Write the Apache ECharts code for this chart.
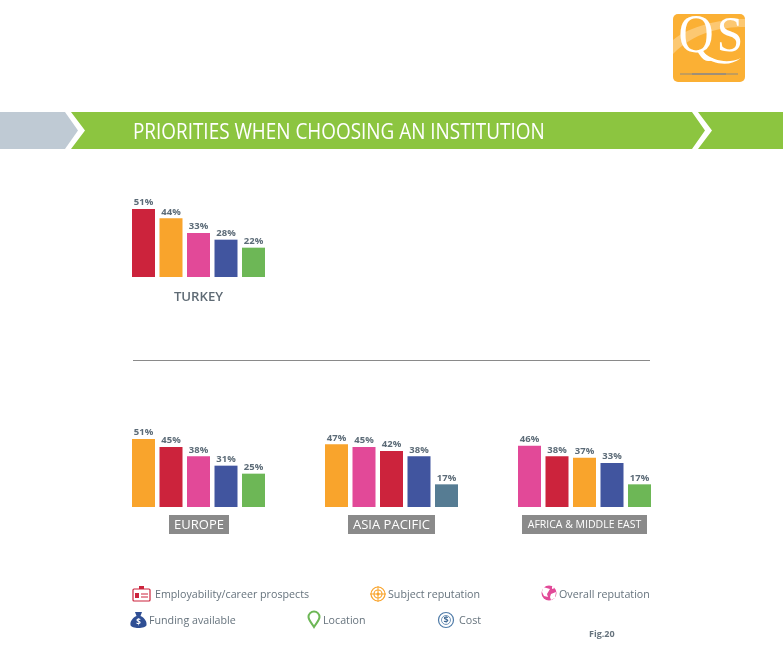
<!DOCTYPE html>
<html>
<head>
<meta charset="utf-8">
<style>
html, body { margin: 0; padding: 0; background: #fff; }
#main { width: 783px; height: 672px; }
</style>
<script src="https://cdn.jsdelivr.net/npm/echarts@6/dist/echarts.min.js"></script>
</head>
<body>
<div id="main"></div>
<script>
var myChart = echarts.init(document.getElementById('main'));

// categories of each panel, in the order they are drawn
var turkeyNames = ['Employability/career prospects', 'Subject reputation', 'Overall reputation', 'Funding available', 'Location'];
var europeNames = ['Subject reputation', 'Employability/career prospects', 'Overall reputation', 'Funding available', 'Location'];
var asiaNames = ['Subject reputation', 'Overall reputation', 'Employability/career prospects', 'Funding available', 'Cost'];
var africaNames = ['Overall reputation', 'Employability/career prospects', 'Subject reputation', 'Funding available', 'Location'];

// values, in percent
var turkeyValues = [51, 44, 33, 28, 22];
var europeValues = [51, 45, 38, 31, 25];
var asiaValues = [47, 45, 42, 38, 17];
var africaValues = [46, 38, 37, 33, 17];

var colors = {
	'Employability/career prospects': '#cc233c',
	'Subject reputation': '#f9a42c',
	'Overall reputation': '#e24998',
	'Funding available': '#41559f',
	'Location': '#6db756',
	'Cost': '#567c93'
};

var FONT = '"Open Sans", sans-serif';
var TEXT = '#66737d';

var panels = [
	{ names: turkeyNames, values: turkeyValues, left: 129.75, top: 197 },
	{ names: europeNames, values: europeValues, left: 129.75, top: 427 },
	{ names: asiaNames, values: asiaValues, left: 322.75, top: 427 },
	{ names: africaNames, values: africaValues, left: 515.75, top: 427 }
];

// the graphic component has no plain path type, so the outlines are registered
echarts.graphic.registerShape('logoSwoosh', echarts.graphic.extendPath('M673 40 C690 26 720 19 745 19 L745 27 C720 27 695 32 673 54 Z'));
echarts.graphic.registerShape('logoTail', echarts.graphic.extendPath('M704 53 C714 61 728 64 741 58 C730 67 714 65 701 55 Z'));
echarts.graphic.registerShape('globeLand', echarts.graphic.extendPath('M543 587 L550 589 L547 594 L548 597 L544 596 L542 592 Z M551 594 L556 592 L555 598 L551 600 L550 597 Z M552 586 L555 588 L552 589 Z'));
echarts.graphic.registerShape('moneyBag', echarts.graphic.extendPath('M135 612 L142 612 L140.5 616 C145 618 147 622 146.5 625 C146 629 131 629 130.5 625 C130 622 132 618 136.5 616 Z'));
echarts.graphic.registerShape('mapPin', echarts.graphic.extendPath('M314 627 C311 622 308.5 620 308.5 617 A5.5 5.5 0 0 1 319.5 617 C319.5 620 317 622 314 627 Z'));

function label(x, y, text, size, color, weight, align) {
	return {
		type: 'text', x: x, y: y, silent: true,
		style: {
			text: text, fill: color, font: (weight || 'normal') + ' ' + size + 'px ' + FONT,
			textAlign: align || 'left', textVerticalAlign: 'middle'
		}
	};
}

function tag(x, width, text, size) {
	return [
		{ type: 'rect', shape: { x: x, y: 515, width: width, height: 19 }, style: { fill: '#8a8a8a' } },
		label(x + width / 2, 525, text, size, '#fff', 'normal', 'center')
	];
}

function stroke(color, width) {
	return { fill: 'none', stroke: color, lineWidth: width };
}

var employabilityIcon = [
	{ type: 'rect', shape: { x: 133, y: 589, width: 17, height: 12, r: 1 }, style: stroke('#cc233c', 1.2) },
	{ type: 'rect', shape: { x: 139, y: 586, width: 5, height: 3 }, style: { fill: '#cc233c' } },
	{ type: 'rect', shape: { x: 135, y: 593, width: 4, height: 5 }, style: { fill: '#cc233c' } },
	{ type: 'line', shape: { x1: 141, y1: 594, x2: 148, y2: 594 }, style: stroke('#cc233c', 1) },
	{ type: 'line', shape: { x1: 141, y1: 597, x2: 148, y2: 597 }, style: stroke('#cc233c', 1) }
];

var subjectIcon = [
	{ type: 'circle', shape: { cx: 378, cy: 594, r: 7 }, style: stroke('#f9a42c', 1.2) },
	{ type: 'circle', shape: { cx: 378, cy: 594, r: 4 }, style: stroke('#f9a42c', 1.2) },
	{ type: 'circle', shape: { cx: 378, cy: 594, r: 1.5 }, style: { fill: '#f9a42c' } },
	{ type: 'line', shape: { x1: 370, y1: 594, x2: 386, y2: 594 }, style: stroke('#f9a42c', 1) },
	{ type: 'line', shape: { x1: 378, y1: 586, x2: 378, y2: 602 }, style: stroke('#f9a42c', 1) }
];

var overallIcon = [
	{ type: 'circle', shape: { cx: 549, cy: 593, r: 7.5 }, style: { fill: '#e24998' } },
	{ type: 'globeLand', style: { fill: '#fff' } }
];

var fundingIcon = [
	{ type: 'moneyBag', style: { fill: '#2f4f94' } },
	label(138.5, 622.5, '$', 8, '#fff', 'bold', 'center')
];

var locationIcon = [
	{ type: 'mapPin', style: stroke('#6db756', 2) }
];

var costIcon = [
	{ type: 'circle', shape: { cx: 446, cy: 620, r: 7.5 }, style: stroke('#4f7ba8', 1.2) },
	{ type: 'circle', shape: { cx: 446, cy: 620, r: 4.5 }, style: stroke('#4f7ba8', 0.8) },
	label(446, 620.5, '$', 9, '#3d6792', 'bold', 'center')
];

var logo = [
	{ type: 'rect', shape: { x: 673, y: 14, width: 72, height: 68, r: 5 }, style: { fill: '#fbb034' } },
	{ type: 'logoSwoosh', style: { fill: '#fcc872' } },
	{
		type: 'text', x: 696, y: 38, scaleX: 0.9, silent: true,
		style: { text: 'Q', fill: '#fff', font: '54px "Liberation Serif", serif', textAlign: 'center', textVerticalAlign: 'middle' }
	},
	{
		type: 'text', x: 730, y: 38, scaleX: 0.95, silent: true,
		style: { text: 'S', fill: '#fff', font: '50px "Liberation Serif", serif', textAlign: 'center', textVerticalAlign: 'middle' }
	},
	{ type: 'logoTail', style: { fill: '#fff' } },
	{ type: 'rect', shape: { x: 680, y: 73.5, width: 58, height: 1 }, style: { fill: '#8e8a80' } },
	{ type: 'rect', shape: { x: 692, y: 73, width: 34, height: 2 }, style: { fill: '#9e8f78' } }
];

var bannerTitle = label(133, 133, 'PRIORITIES WHEN CHOOSING AN INSTITUTION', 21, '#fff');
bannerTitle.scaleX = 0.9;

var banner = [
	{ type: 'polygon', shape: { points: [[0, 112], [65, 112], [78, 130.5], [65, 149], [0, 149]] }, style: { fill: '#bfcad4' } },
	{ type: 'polygon', shape: { points: [[71, 112], [692, 112], [705, 130.5], [692, 149], [71, 149], [85, 130.5]] }, style: { fill: '#8cc540' } },
	{ type: 'polygon', shape: { points: [[698, 112], [783, 112], [783, 149], [698, 149], [712, 130.5]] }, style: { fill: '#8cc540' } },
	bannerTitle
];

var graphics = [].concat(
	logo,
	banner,
	[{ type: 'rect', shape: { x: 133, y: 360, width: 517, height: 1 }, style: { fill: '#8a8a8a' } }],
	[label(198.5, 297.5, 'TURKEY', 13.2, '#5f6b75', '600', 'center')],
	tag(169, 60, 'EUROPE', 13),
	tag(348, 87, 'ASIA PACIFIC', 13),
	tag(522, 125, 'AFRICA & MIDDLE EAST', 10.5),
	employabilityIcon, subjectIcon, overallIcon, fundingIcon, locationIcon, costIcon,
	[
		label(155, 594.5, 'Employability/career prospects', 10.7, TEXT),
		label(388, 594.5, 'Subject reputation', 10.7, TEXT),
		label(559, 594.5, 'Overall reputation', 10.7, TEXT),
		label(149, 620.5, 'Funding available', 10.7, TEXT),
		label(323, 620.5, 'Location', 10.7, TEXT),
		label(459, 620.5, 'Cost', 10.7, TEXT),
		label(589, 634, 'Fig.20', 9, TEXT, 'bold')
	]
);

myChart.setOption({
	animation: false,
	grid: panels.map(function (p) {
		return { left: p.left, top: p.top, width: 137.5, height: 80 };
	}),
	xAxis: panels.map(function (p, i) {
		return { type: 'category', gridIndex: i, data: p.names, show: false };
	}),
	yAxis: panels.map(function (p, i) {
		return { type: 'value', gridIndex: i, min: 0, max: 60, show: false };
	}),
	series: panels.map(function (p, i) {
		return {
			type: 'bar',
			xAxisIndex: i,
			yAxisIndex: i,
			barWidth: 23,
			itemStyle: {
				color: function (params) {
					return colors[params.name];
				}
			},
			label: {
				show: true,
				position: 'top',
				distance: 1.5,
				formatter: '{c}%',
				fontFamily: FONT,
				fontWeight: 'bold',
				fontSize: 9.5,
				color: '#5c6b77'
			},
			data: p.values
		};
	}),
	graphic: { elements: graphics }
});
</script>
</body>
</html>
